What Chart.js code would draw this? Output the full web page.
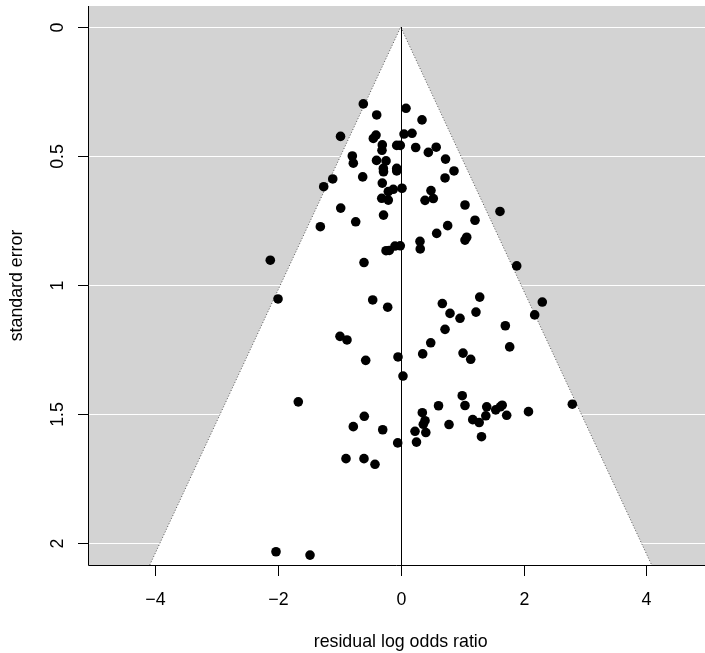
<!DOCTYPE html>
<html>
<head>
<meta charset="utf-8">
<title>Funnel plot</title>
<script src="https://cdn.jsdelivr.net/npm/chart.js@4/dist/chart.umd.min.js"></script>
<style>
  html, body { margin: 0; padding: 0; background: #fff; }
  canvas { display: block; }
</style>
</head>
<body>
<canvas id="funnelChart" width="705" height="653"></canvas>
<script>
// residuals (log odds ratio) and their standard errors, one entry per study
const residLogOR = [
  -0.609, -0.391, 0.086, 0.347, -0.980, -0.446, -0.402, -0.300, -0.305, -0.065,
  -0.007, 0.054, 0.184, 0.244, 0.450, 0.578, 0.730, 0.868, 0.722, -0.788,
  -0.772, -0.394, -0.239, -0.283, -0.280, -0.065, -0.065, -0.619, -1.107, -1.254,
  -0.300, -0.202, -0.121, 0.021, -0.309, -0.202, 0.493, 0.531, 0.396, 1.047,
  -0.977, -0.280, -1.309, -0.733, 1.210, 0.765, 0.586, 1.047, 1.075, 1.617,
  -0.239, -0.186, -0.093, -0.007, 0.314, 0.318, -2.124, -0.598, 1.889, -1.998,
  -0.456, -0.212, 0.678, 0.803, 0.966, 1.287, 1.226, 2.306, 2.182, 1.704,
  0.722, -0.989, -0.875, 0.489, 1.775, -0.570, -0.044, 0.358, 1.015, 1.140,
  0.037, -1.668, -0.593, -0.772, -0.293, -0.049, 0.352, 0.396, 0.368, 0.233,
  0.409, 0.257, 0.616, 0.787, 1.002, 1.047, 1.173, 1.278, 1.316, 1.401,
  1.386, 1.547, 1.653, 1.622, 1.726, 2.081, 2.795, -0.891, -0.598, -0.419,
  -2.031, -1.477
];
const stdError = [
  0.298, 0.341, 0.315, 0.360, 0.424, 0.432, 0.419, 0.457, 0.478, 0.459,
  0.459, 0.415, 0.412, 0.467, 0.486, 0.466, 0.512, 0.558, 0.585, 0.500,
  0.528, 0.517, 0.519, 0.548, 0.561, 0.548, 0.558, 0.581, 0.589, 0.619,
  0.605, 0.638, 0.629, 0.625, 0.664, 0.671, 0.634, 0.665, 0.672, 0.690,
  0.702, 0.729, 0.774, 0.755, 0.749, 0.770, 0.800, 0.826, 0.815, 0.715,
  0.867, 0.866, 0.849, 0.848, 0.831, 0.860, 0.904, 0.913, 0.926, 1.054,
  1.058, 1.086, 1.072, 1.110, 1.129, 1.047, 1.105, 1.066, 1.116, 1.158,
  1.172, 1.199, 1.213, 1.224, 1.240, 1.292, 1.279, 1.267, 1.264, 1.288,
  1.353, 1.453, 1.509, 1.549, 1.561, 1.612, 1.495, 1.526, 1.540, 1.567,
  1.572, 1.609, 1.468, 1.541, 1.429, 1.467, 1.522, 1.533, 1.588, 1.472,
  1.507, 1.484, 1.466, 1.472, 1.505, 1.491, 1.462, 1.673, 1.673, 1.695,
  2.034, 2.047
];

const xTicks = [-4, -2, 0, 2, 4];
const xTickLabels = ['\u22124', '\u22122', '0', '2', '4'];
const yTicks = [0, 0.5, 1, 1.5, 2];
const yTickLabels = ['0', '0.5', '1', '1.5', '2'];
const xTitle = 'residual log odds ratio';
const yTitle = 'standard error';
const zCrit = 1.96;   // pseudo confidence region half-width multiplier

const FONT = '17.8px "Liberation Sans", Arial, Helvetica, sans-serif';

const points = residLogOR.map((r, i) => ({ x: r, y: stdError[i] }));

// gray panel, white grid lines, white funnel region, centre line
const funnelBackground = {
  id: 'funnelBackground',
  beforeDatasetsDraw(chart) {
    const { ctx, chartArea: a, scales: { x, y } } = chart;
    ctx.save();
    ctx.fillStyle = '#d3d3d3';
    ctx.fillRect(a.left, a.top, a.right - a.left, a.bottom - a.top);

    ctx.strokeStyle = '#ffffff';
    ctx.lineWidth = 1.2;
    yTicks.forEach(v => {
      const py = Math.round(y.getPixelForValue(v)) + 0.5;
      ctx.beginPath();
      ctx.moveTo(a.left, py);
      ctx.lineTo(a.right, py);
      ctx.stroke();
    });

    const seBottom = y.max;
    const apexX = x.getPixelForValue(0);
    const apexY = y.getPixelForValue(0);
    const leftX = x.getPixelForValue(-zCrit * seBottom);
    const rightX = x.getPixelForValue(zCrit * seBottom);
    const botY = y.getPixelForValue(seBottom);

    ctx.fillStyle = '#ffffff';
    ctx.beginPath();
    ctx.moveTo(apexX, apexY);
    ctx.lineTo(leftX, botY);
    ctx.lineTo(rightX, botY);
    ctx.closePath();
    ctx.fill();

    ctx.strokeStyle = '#555555';
    ctx.lineWidth = 1;
    ctx.setLineDash([1, 2]);
    ctx.beginPath();
    ctx.moveTo(leftX, botY);
    ctx.lineTo(apexX, apexY);
    ctx.lineTo(rightX, botY);
    ctx.stroke();
    ctx.setLineDash([]);

    ctx.strokeStyle = '#000000';
    ctx.lineWidth = 1;
    ctx.beginPath();
    ctx.moveTo(Math.round(apexX) + 0.5, apexY);
    ctx.lineTo(Math.round(apexX) + 0.5, botY);
    ctx.stroke();
    ctx.restore();
  }
};

// axis lines, ticks, tick labels and titles
const funnelAxes = {
  id: 'funnelAxes',
  afterDraw(chart) {
    const { ctx, chartArea: a, scales: { x, y } } = chart;
    const left = Math.round(a.left) + 0.5;
    const bottom = Math.round(a.bottom) + 0.5;
    ctx.save();
    ctx.strokeStyle = '#000';
    ctx.lineWidth = 1;
    ctx.beginPath();
    ctx.moveTo(left, a.top);
    ctx.lineTo(left, bottom);
    ctx.lineTo(a.right, bottom);
    ctx.stroke();

    ctx.fillStyle = '#000';
    ctx.font = FONT;

    xTicks.forEach((v, i) => {
      const px = Math.round(x.getPixelForValue(v)) + 0.5;
      ctx.beginPath();
      ctx.moveTo(px, bottom);
      ctx.lineTo(px, bottom + 10.5);
      ctx.stroke();
      ctx.textAlign = 'center';
      ctx.textBaseline = 'alphabetic';
      ctx.fillText(xTickLabels[i], px, 605);
    });

    yTicks.forEach((v, i) => {
      const py = Math.round(y.getPixelForValue(v)) + 0.5;
      ctx.beginPath();
      ctx.moveTo(left - 10.5, py);
      ctx.lineTo(left, py);
      ctx.stroke();
      ctx.save();
      ctx.translate(63, py);
      ctx.rotate(-Math.PI / 2);
      ctx.textAlign = 'center';
      ctx.textBaseline = 'alphabetic';
      ctx.fillText(yTickLabels[i], 0, 0);
      ctx.restore();
    });

    ctx.textAlign = 'center';
    ctx.textBaseline = 'alphabetic';
    ctx.fillText(xTitle, x.getPixelForValue(0), 646.5);

    ctx.save();
    ctx.translate(21.5, (a.top + a.bottom) / 2);
    ctx.rotate(-Math.PI / 2);
    ctx.fillText(yTitle, 0, 0);
    ctx.restore();
    ctx.restore();
  }
};

new Chart(document.getElementById('funnelChart'), {
  type: 'scatter',
  data: {
    datasets: [{
      data: points,
      pointRadius: 4.8,
      pointHoverRadius: 4.8,
      backgroundColor: '#000',
      borderColor: '#000',
      borderWidth: 0
    }]
  },
  options: {
    responsive: false,
    animation: false,
    devicePixelRatio: 1,
    layout: { autoPadding: false, padding: { left: 88, top: 6, right: 0, bottom: 88 } },
    scales: {
      x: { type: 'linear', min: -5.093, max: 4.956, display: false },
      y: { type: 'linear', min: -0.0814, max: 2.0853, reverse: true, display: false }
    },
    plugins: {
      legend: { display: false },
      tooltip: { enabled: false }
    },
    events: []
  },
  plugins: [funnelBackground, funnelAxes]
});
</script>
</body>
</html>
